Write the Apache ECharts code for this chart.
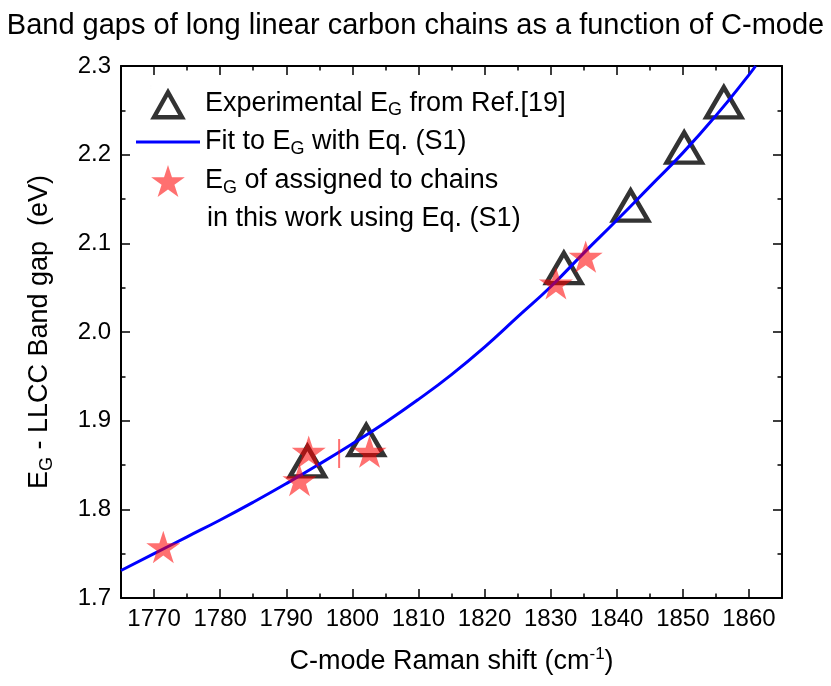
<!DOCTYPE html>
<html>
<head>
<meta charset="utf-8">
<script src="https://cdn.jsdelivr.net/npm/echarts@6/dist/echarts.min.js"></script>
<style>
html,body{margin:0;padding:0;background:#fff;}
#c{width:831px;height:686px;}
</style>
</head>
<body>
<div id="c"></div>
<script>
// ---- data ----
const xMajorTicks = [1770, 1780, 1790, 1800, 1810, 1820, 1830, 1840, 1850, 1860];
const xMinorTicks = [1765, 1775, 1785, 1795, 1805, 1815, 1825, 1835, 1845, 1855, 1865];
const experimentalX = [1793.2, 1802.1, 1832.0, 1842.1, 1850.2, 1856.2];
const experimentalY = [1.854, 1.878, 2.072, 2.1425, 2.208, 2.259];
const fitX = [1765, 1770, 1775, 1780, 1785, 1790, 1795, 1800, 1805, 1810, 1815, 1820, 1825, 1830, 1835, 1840, 1845, 1850, 1855, 1860, 1861];
const fitY = [1.731, 1.750, 1.769, 1.788, 1.808, 1.829, 1.851, 1.874, 1.898, 1.924, 1.952, 1.983, 2.017, 2.051, 2.089, 2.126, 2.164, 2.202, 2.244, 2.290, 2.300];
const assignedX = [1771.4, 1792.0, 1793.4, 1802.6, 1830.8, 1835.3];
const assignedY = [1.7575, 1.833, 1.865, 1.865, 2.055, 2.085];
const markX = [1798.0];
const markY = [1.863];

const FONT = 'Liberation Sans, Arial, sans-serif';
const STAR = 'path://M50,0 L61.2,34.5 L97.6,34.5 L68.2,55.9 L79.4,90.5 L50,69.1 L20.6,90.5 L31.8,55.9 L2.4,34.5 L38.8,34.5 Z';
const LEG_TRI = 'path://M0,0 L0.01,0 M3,30 L17,5 L31,30 Z M34,32 L34.01,32';
const LEG_LINE = 'path://M0,0 L64,0 L64,3 L0,3 Z';
const RED = 'rgba(255,0,0,0.7)';

const expData = experimentalX.map((x, i) => [x, experimentalY[i]]);
const fitData = fitX.map((x, i) => [x, fitY[i]]);
const starData = assignedX.map((x, i) => [x, assignedY[i]]);
markX.forEach((x, i) => starData.push({value: [x, markY[i]], symbol: 'rect', symbolSize: [2, 29]}));

const chart = echarts.init(document.getElementById('c'), null, {renderer: 'canvas'});

const axisLineStyle = {show: true, lineStyle: {color: '#000', width: 2}};
const tickStyle = {color: '#000', width: 1.5};

function xAx(pos, ticks, len, withLabels, withLine) {
  return {
    type: 'value', position: pos, min: 1765, max: 1865, interval: 5, gridIndex: 0,
    axisLine: withLine ? axisLineStyle : {show: false},
    axisTick: {show: true, inside: true, length: len, customValues: ticks, lineStyle: tickStyle},
    axisLabel: withLabels ? {show: true, customValues: xMajorTicks, color: '#000', fontSize: 24, fontFamily: FONT, margin: 9, formatter: v => String(Math.round(v))} : {show: false},
    splitLine: {show: false},
    name: withLabels ? '{t|C-mode Raman shift (cm}{u|-1}{t|)}' : '',
    nameLocation: 'middle', nameGap: 48,
    nameTextStyle: {
      color: '#000', fontFamily: FONT,
      rich: {
        t: {fontSize: 27, lineHeight: 32, fontFamily: FONT, color: '#000'},
        u: {fontSize: 17, lineHeight: 14, verticalAlign: 'top', fontFamily: FONT, color: '#000'}
      }
    }
  };
}

function yAx(pos, withLabels) {
  return {
    type: 'value', position: pos, min: 1.7, max: 2.3, interval: 0.1, gridIndex: 0,
    axisLine: axisLineStyle,
    axisTick: {show: true, inside: true, length: 9, lineStyle: tickStyle},
    minorTick: {show: true, splitNumber: 2, length: 4.5, lineStyle: tickStyle},
    axisLabel: withLabels ? {show: true, color: '#000', fontSize: 24, fontFamily: FONT, margin: 10, formatter: v => v.toFixed(1)} : {show: false},
    splitLine: {show: false}, minorSplitLine: {show: false},
    name: withLabels ? '{t|E}{s|G}{t| - LLCC Band gap  (eV)}' : '',
    nameLocation: 'middle', nameGap: 65,
    nameTextStyle: {
      color: '#000', fontFamily: FONT,
      rich: {
        t: {fontSize: 27, lineHeight: 32, fontFamily: FONT, color: '#000'},
        s: {fontSize: 18, lineHeight: 14, verticalAlign: 'bottom', fontFamily: FONT, color: '#000'}
      }
    }
  };
}

const richLegend = {
  t: {fontSize: 27, lineHeight: 32, fontFamily: FONT, color: '#000'},
  s: {fontSize: 18, lineHeight: 14, verticalAlign: 'bottom', fontFamily: FONT, color: '#000'}
};

const option = {
  backgroundColor: '#fff',
  animation: false,
  title: {
    text: 'Band gaps of long linear carbon chains as a function of C-mode',
    left: 'center', top: 5,
    textStyle: {fontSize: 29, fontWeight: 'normal', color: '#000', fontFamily: FONT, lineHeight: 32}
  },
  grid: {left: 121, right: 49, top: 66, bottom: 88, containLabel: false},
  xAxis: [
    xAx('bottom', xMajorTicks, 9, true, true),
    xAx('bottom', xMinorTicks, 4.5, false, false),
    xAx('top', xMajorTicks, 9, false, true),
    xAx('top', xMinorTicks, 4.5, false, false)
  ],
  yAxis: [yAx('left', true), yAx('right', false)],
  legend: {
    orient: 'vertical', left: 136, top: 85, padding: 0,
    itemWidth: 64, itemHeight: 32, itemGap: 7,
    symbolKeepAspect: true,
    textStyle: {rich: richLegend, fontSize: 27, fontFamily: FONT, color: '#000'},
    formatter: function (name) {
      if (name === 'exp') return '{t|Experimental E}{s|G}{t| from Ref.[19]}';
      if (name === 'fit') return '{t|Fit to E}{s|G}{t| with Eq. (S1)}';
      return '{t|E}{s|G}{t| of assigned to chains}';
    },
    data: [
      {name: 'exp', icon: LEG_TRI, itemStyle: {color: 'rgba(0,0,0,0)', borderColor: '#000', borderWidth: 4.5}},
      {name: 'fit', icon: LEG_LINE, itemStyle: {color: '#0000ff', borderWidth: 0}},
      {name: 'star', icon: STAR, itemStyle: {color: RED, borderWidth: 0}}
    ]
  },
  graphic: [{
    type: 'text', left: 207, top: 205,
    style: {text: 'in this work using Eq. (S1)', fontSize: 27, fontFamily: FONT, fill: '#000'}
  }],
  series: [
    {
      name: 'exp', type: 'scatter', xAxisIndex: 0, yAxisIndex: 0,
      symbol: 'triangle', symbolSize: [35, 30],
      itemStyle: {color: 'rgba(0,0,0,0)', borderColor: '#000', borderWidth: 4.5},
      data: expData, z: 2
    },
    {
      name: 'fit', type: 'line', xAxisIndex: 0, yAxisIndex: 0,
      smooth: true, symbol: 'none', showSymbol: false,
      lineStyle: {color: '#0000ff', width: 3},
      itemStyle: {color: '#0000ff'},
      data: fitData, z: 3
    },
    {
      name: 'star', type: 'scatter', xAxisIndex: 0, yAxisIndex: 0,
      symbol: STAR, symbolSize: 34, symbolKeepAspect: true,
      itemStyle: {color: RED, borderWidth: 0},
      data: starData, z: 4
    }
  ]
};
chart.setOption(option);
</script>
</body>
</html>
